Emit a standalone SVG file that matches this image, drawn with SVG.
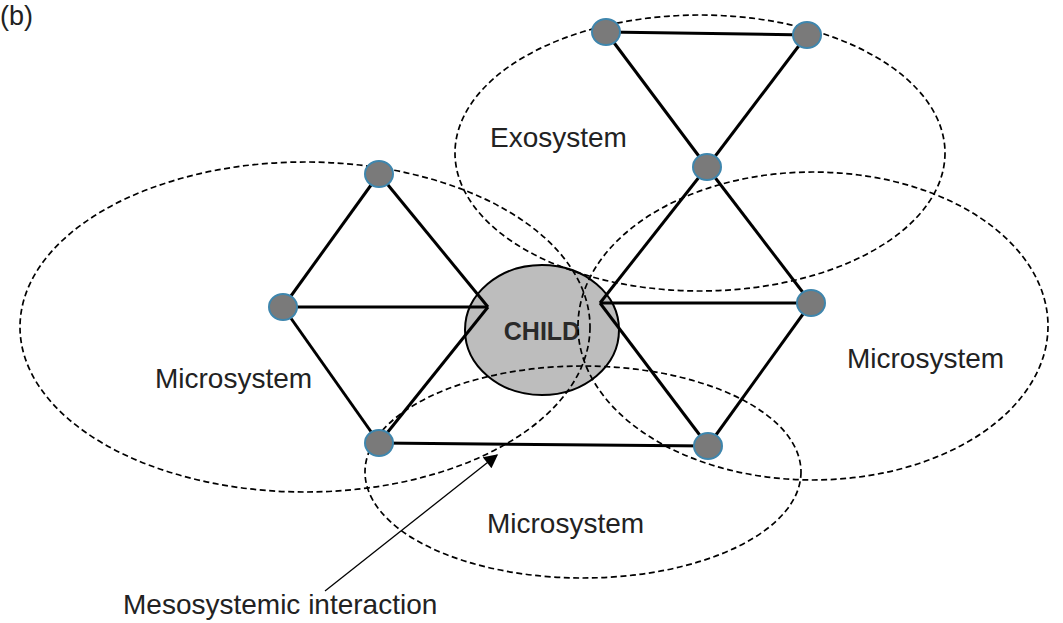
<svg xmlns="http://www.w3.org/2000/svg" width="1063" height="623" viewBox="0 0 1063 623">
<defs>
<style>
.sys{fill:none;stroke:#000;stroke-width:1.7;stroke-dasharray:6 3.5}
.edge{stroke:#000;stroke-width:3;fill:none}
.node{fill:#7a7a7a;stroke:#3f86ad;stroke-width:2}
.lbl{font-family:"Liberation Sans",Arial,sans-serif;font-size:28px;fill:#222}
</style>
<marker id="ah" viewBox="0 0 10 10" refX="9" refY="5" markerWidth="18" markerHeight="14" markerUnits="userSpaceOnUse" orient="auto">
<path d="M0,0 L10,5 L0,10 z" fill="#000"/>
</marker>
</defs>
<rect width="1063" height="623" fill="#fff"/>
<text class="lbl" x="0" y="25" style="font-size:27px">(b)</text>
<g id="child">
<ellipse cx="542" cy="330" rx="77" ry="65" fill="#bdbdbd" stroke="#000" stroke-width="2"/>
<text x="542" y="340" text-anchor="middle" font-family="Liberation Sans,Arial,sans-serif" font-weight="bold" font-size="25" fill="#2a2a2a">CHILD</text>
</g>
<g id="systems">
<ellipse id="micro-left" class="sys" cx="305" cy="327" rx="285" ry="165"/>
<ellipse id="exo" class="sys" cx="700" cy="153" rx="245" ry="138"/>
<ellipse id="micro-right" class="sys" cx="813" cy="326" rx="235" ry="154"/>
<ellipse id="micro-bottom" class="sys" cx="583" cy="472" rx="218" ry="106"/>
</g>
<g id="connectors">
<line class="edge" x1="379" y1="174" x2="283" y2="307"/>
<line class="edge" x1="283" y1="307" x2="379" y2="443"/>
<line class="edge" x1="379" y1="174" x2="488" y2="307"/>
<line class="edge" x1="283" y1="307" x2="488" y2="307"/>
<line class="edge" x1="379" y1="443" x2="488" y2="307"/>
<line class="edge" x1="379" y1="443" x2="708" y2="446"/>
<line class="edge" x1="606" y1="32" x2="807" y2="35"/>
<line class="edge" x1="606" y1="32" x2="707" y2="167"/>
<line class="edge" x1="807" y1="35" x2="707" y2="167"/>
<line class="edge" x1="707" y1="167" x2="600" y2="303"/>
<line class="edge" x1="707" y1="167" x2="811" y2="303"/>
<line class="edge" x1="811" y1="303" x2="600" y2="303"/>
<line class="edge" x1="811" y1="303" x2="708" y2="446"/>
<line class="edge" x1="600" y1="303" x2="708" y2="446"/>
<line x1="325" y1="591" x2="497" y2="455" stroke="#000" stroke-width="1.3" marker-end="url(#ah)"/>
</g>
<g id="n1"><ellipse class="node" cx="379" cy="174" rx="14" ry="13"/></g>
<g id="n2"><ellipse class="node" cx="283" cy="307" rx="14" ry="13"/></g>
<g id="n3"><ellipse class="node" cx="379" cy="443" rx="14" ry="13"/></g>
<g id="n4"><ellipse class="node" cx="606" cy="32" rx="14" ry="13"/></g>
<g id="n5"><ellipse class="node" cx="807" cy="35" rx="14" ry="13"/></g>
<g id="n6"><ellipse class="node" cx="707" cy="167" rx="14" ry="13"/></g>
<g id="n7"><ellipse class="node" cx="811" cy="303" rx="14" ry="13"/></g>
<g id="n8"><ellipse class="node" cx="708" cy="446" rx="14" ry="13"/></g>
<g id="labels">
<text class="lbl" x="490" y="147">Exosystem</text>
<text class="lbl" x="155" y="388">Microsystem</text>
<text class="lbl" x="847" y="368">Microsystem</text>
<text class="lbl" x="487" y="533">Microsystem</text>
<text class="lbl" x="123" y="614">Mesosystemic interaction</text>
</g>
</svg>
